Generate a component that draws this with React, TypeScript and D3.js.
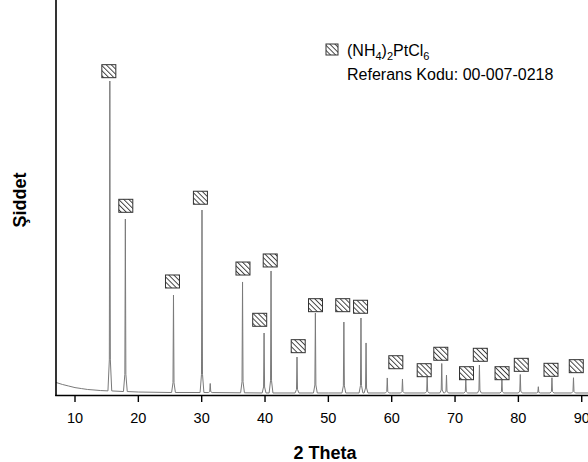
import React from "react";
import * as d3 from "d3";

// background (amorphous/baseline) level, counts
const bgAngles = [7, 8, 9, 10, 11, 12, 13, 14, 16, 18, 20, 25, 30, 40, 50, 60, 70, 80, 92];
const bgCounts = [165, 140, 120, 100, 88, 76, 70, 63, 57, 50, 44, 38, 38, 32, 32, 32, 32, 32, 32];

// observed diffraction peaks (2θ, top intensity in counts)
const peakAngles = [15.5, 17.95, 25.55, 30.05, 31.35, 36.45, 39.85, 40.95, 45.05, 47.95, 52.45, 55.15, 55.95, 59.3, 61.7, 65.6, 67.9, 68.65, 71.7, 73.85, 77.4, 80.3, 83.15, 85.3, 88.7];
const peakCounts = [3981, 2234, 1272, 2348, 152, 1437, 791, 1576, 487, 1044, 930, 981, 665, 222, 209, 234, 405, 259, 196, 386, 196, 266, 111, 225, 225];

// reference pattern markers (NH4)2PtCl6, 00-007-0218
const markerAngles = [15.34, 18.02, 25.39, 29.8, 36.52, 39.16, 40.82, 45.24, 47.97, 52.27, 55.08, 60.65, 65.13, 67.75, 71.81, 73.99, 77.42, 80.46, 85.15, 89.14];
const markerLevels = [4023, 2319, 1361, 2421, 1525, 876, 1627, 542, 1061, 1061, 1041, 339, 238, 446, 200, 433, 200, 306, 243, 289];

const xTicks = [10, 20, 30, 40, 50, 60, 70, 80, 90];

const FONT = "'Liberation Sans', Arial, sans-serif";

export default function App() {
  const x = d3.scaleLinear().domain([7, 92]).range([56, 56 + 85 * 6.334]);
  const y = d3.scaleLinear().domain([0, 5000]).range([395.5, 0.5]);
  const bg = d3.scaleLinear().domain(bgAngles).range(bgCounts);

  const pts: [number, number][] = [];
  bgAngles.forEach((a, i) => {
    if (!peakAngles.some((p) => Math.abs(p - a) < 0.4)) pts.push([a, bgCounts[i]]);
  });
  peakAngles.forEach((a, i) => {
    const b = bg(a);
    const h = peakCounts[i] - b;
    pts.push([a - 0.3, b]);
    pts.push([a - 0.08, b + 0.1 * h]);
    pts.push([a, peakCounts[i]]);
    pts.push([a + 0.08, b + 0.1 * h]);
    pts.push([a + 0.3, b]);
  });
  pts.sort((p, q) => p[0] - q[0]);

  const line = d3
    .line<[number, number]>()
    .x((d) => x(d[0]))
    .y((d) => y(d[1]));

  const mw = 14;
  const mh = 13;

  return (
    <svg
      width={588}
      height={462}
      style={{ position: "absolute", left: 0, top: 0, background: "#fff" }}
      fontFamily={FONT}
    >
      <defs>
        <pattern
          id="hatch"
          width={3.6}
          height={3.6}
          patternUnits="userSpaceOnUse"
          patternTransform="rotate(-45)"
        >
          <rect width={3.6} height={3.6} fill="#fff" />
          <line x1={0.5} y1={0} x2={0.5} y2={3.6} stroke="#333" strokeWidth={0.9} />
        </pattern>
        <clipPath id="plot">
          <rect x={56} y={0} width={540} height={396} />
        </clipPath>
      </defs>

      <path
        d={line(pts) || ""}
        fill="none"
        stroke="#7a7a7a"
        strokeWidth={1}
        clipPath="url(#plot)"
      />

      {markerAngles.map((a, i) => (
        <rect
          key={i}
          x={x(a) - mw / 2}
          y={y(markerLevels[i]) - mh}
          width={mw}
          height={mh}
          fill="url(#hatch)"
          stroke="#333"
          strokeWidth={1}
        />
      ))}

      {/* axes */}
      <line x1={56} y1={0} x2={56} y2={396} stroke="#000" strokeWidth={1.6} />
      <line x1={55.2} y1={395.5} x2={588} y2={395.5} stroke="#000" strokeWidth={1.6} />
      {xTicks.map((t) => (
        <g key={t}>
          <line x1={x(t)} y1={395.5} x2={x(t)} y2={402} stroke="#000" strokeWidth={1.4} />
          <text x={x(t)} y={423} textAnchor="middle" fontSize={14.5} fill="#000">
            {t}
          </text>
        </g>
      ))}

      <text x={325} y={459} textAnchor="middle" fontSize={18} fontWeight="bold" fill="#000">
        2 Theta
      </text>
      <text
        transform="translate(26,200) rotate(-90)"
        textAnchor="middle"
        fontSize={18}
        fontWeight="bold"
        fill="#000"
      >
        Şiddet
      </text>

      {/* legend */}
      <rect x={326} y={44} width={12} height={11} fill="url(#hatch)" stroke="#333" strokeWidth={1} />
      <text x={347} y={56} fontSize={16} fill="#000">
        (NH
        <tspan dy={4} fontSize={11}>4</tspan>
        <tspan dy={-4}>)</tspan>
        <tspan dy={4} fontSize={11}>2</tspan>
        <tspan dy={-4}>PtCl</tspan>
        <tspan dy={4} fontSize={11}>6</tspan>
      </text>
      <text x={347} y={80} fontSize={16} fill="#000">
        Referans Kodu: 00-007-0218
      </text>
    </svg>
  );
}
